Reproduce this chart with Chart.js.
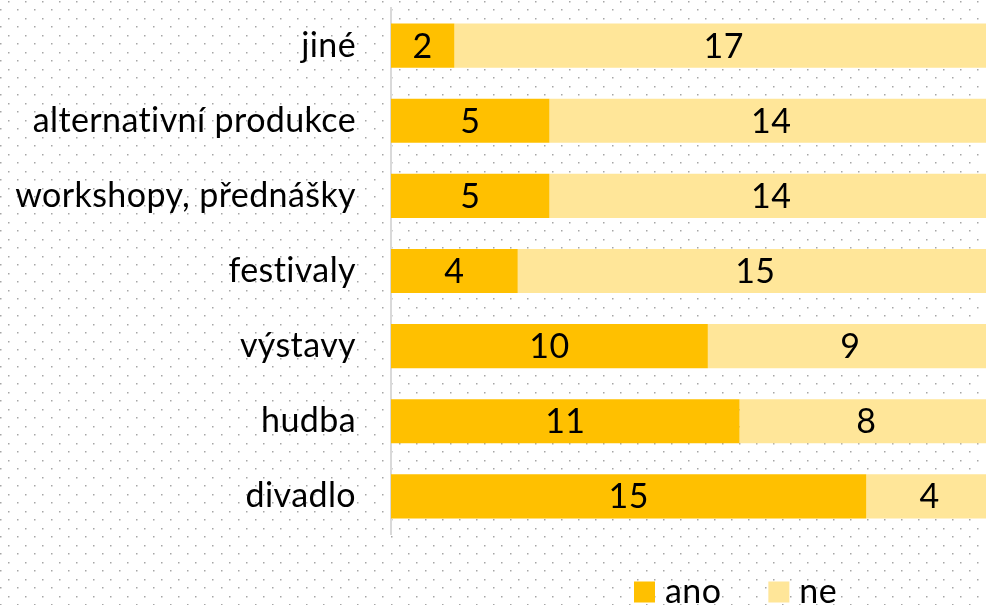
<!DOCTYPE html>
<html>
<head>
<meta charset="utf-8">
<script src="https://cdn.jsdelivr.net/npm/chart.js@4"></script>
<style>
  html, body { margin: 0; padding: 0; background: #fff; overflow: hidden; width: 986px; height: 605px; }
  /* the original plot is cut off a few pixels past the right edge */
  #wrap { width: 993px; height: 605px; position: relative; }
</style>
</head>
<body>
<div id="wrap"><canvas id="chart"></canvas></div>
<script>
// --- DATA ---
const categories = ['jiné', 'alternativní produkce', 'workshopy, přednášky', 'festivaly', 'výstavy', 'hudba', 'divadlo'];
const anoValues = [2, 5, 5, 4, 10, 11, 15];
const neValues = [17, 14, 14, 15, 9, 8, 4];
const seriesNames = ['ano', 'ne'];
const seriesColors = ['#FFC000', '#FFE699'];

const FONT = 'Lato, "Open Sans", sans-serif';
const FONT_SIZE = 34;

// dotted background, like the office "dotted grid" fill
function makeDotPattern(ctx) {
    const tile = document.createElement('canvas');
    tile.width = 17;
    tile.height = 17;
    const t = tile.getContext('2d');
    t.fillStyle = '#fff';
    t.fillRect(0, 0, 17, 17);
    t.fillStyle = '#a6a6a6';
    t.fillRect(8, 1, 1.5, 1.5);
    t.fillRect(0, 9, 1.5, 1.5);
    return ctx.createPattern(tile, 'repeat');
}

const backgroundPlugin = {
    id: 'dottedBackground',
    beforeDraw(chart) {
        const ctx = chart.ctx;
        // a bit of letter spacing also stops Lato's "ti" ligature
        ctx.letterSpacing = '0.4px';
        ctx.save();
        ctx.fillStyle = makeDotPattern(ctx);
        ctx.fillRect(0, 0, chart.width, chart.height);
        ctx.restore();
    }
};

// values written in the middle of every segment
const segmentLabels = {
    id: 'segmentLabels',
    afterDatasetsDraw(chart) {
        const ctx = chart.ctx;
        ctx.save();
        ctx.font = FONT_SIZE + 'px ' + FONT;
        ctx.fillStyle = '#000';
        ctx.textAlign = 'center';
        ctx.textBaseline = 'middle';
        chart.data.datasets.forEach((ds, i) => {
            chart.getDatasetMeta(i).data.forEach((bar, j) => {
                const p = bar.getProps(['x', 'y', 'base'], true);
                ctx.fillText(ds.data[j], (p.x + p.base) / 2, p.y + 1);
            });
        });
        ctx.restore();
    }
};

// legend drawn under the plot, squares + names
const bottomLegend = {
    id: 'bottomLegend',
    afterDraw(chart) {
        const ctx = chart.ctx;
        ctx.save();
        ctx.font = FONT_SIZE + 'px ' + FONT;
        ctx.textBaseline = 'middle';
        const box = 21;
        const gap = 10;
        const itemGap = 47;
        let x = 634;
        const y = 592;
        seriesNames.forEach((name, i) => {
            ctx.fillStyle = seriesColors[i];
            ctx.fillRect(x, y - box / 2, box, box);
            ctx.fillStyle = '#000';
            ctx.fillText(name, x + box + gap, y);
            x += box + gap + ctx.measureText(name).width + itemGap;
        });
        ctx.restore();
    }
};

const chart = new Chart(document.getElementById('chart'), {
    type: 'bar',
    data: {
        labels: categories,
        datasets: [
            { label: seriesNames[0], data: anoValues, backgroundColor: seriesColors[0] },
            { label: seriesNames[1], data: neValues, backgroundColor: seriesColors[1] }
        ]
    },
    options: {
        indexAxis: 'y',
        responsive: true,
        maintainAspectRatio: false,
        animation: false,
        categoryPercentage: 1,
        barPercentage: 0.587,
        layout: { padding: { top: 8, bottom: 71, right: 0, left: 0 } },
        scales: {
            x: {
                stacked: true,
                display: false,
                min: 0,
                max: 19
            },
            y: {
                stacked: true,
                grid: { display: false },
                border: { display: true, color: '#d9d9d9', width: 2 },
                ticks: {
                    color: '#000',
                    font: { family: FONT, size: FONT_SIZE },
                    padding: 27
                },
                afterFit(scale) {
                    scale.width = 391;
                    scale.paddingTop = 0;
                    scale.paddingBottom = 0;
                }
            }
        },
        plugins: {
            legend: { display: false },
            tooltip: { enabled: false }
        }
    },
    plugins: [backgroundPlugin, segmentLabels, bottomLegend]
});
</script>
</body>
</html>
